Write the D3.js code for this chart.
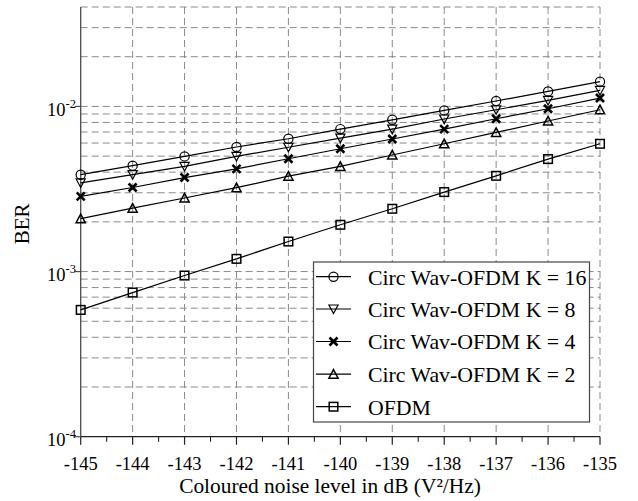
<!DOCTYPE html>
<html>
<head>
<meta charset="utf-8">
<script src="https://cdn.jsdelivr.net/npm/d3@7/dist/d3.min.js"></script>
<style>
  html, body { margin: 0; padding: 0; background: #fff; }
  svg { display: block; }
  text { font-family: "Liberation Serif", Tinos, "Times New Roman", "DejaVu Serif", serif; fill: #000; }
</style>
</head>
<body>
<svg id="chart" width="638" height="501"></svg>
<script>
// ---- data ----
const noiseLevels = [-145, -144, -143, -142, -141, -140, -139, -138, -137, -136, -135];
const berK16 = [3.86e-3, 4.38e-3, 4.98e-3, 5.68e-3, 6.37e-3, 7.29e-3, 8.30e-3, 9.46e-3, 1.079e-2, 1.233e-2, 1.413e-2];
const berK8  = [3.44e-3, 3.86e-3, 4.33e-3, 4.98e-3, 5.66e-3, 6.43e-3, 7.29e-3, 8.39e-3, 9.55e-3, 1.087e-2, 1.25e-2];
const berK4  = [2.85e-3, 3.23e-3, 3.71e-3, 4.19e-3, 4.82e-3, 5.54e-3, 6.35e-3, 7.29e-3, 8.42e-3, 9.68e-3, 1.124e-2];
const berK2  = [2.09e-3, 2.42e-3, 2.79e-3, 3.22e-3, 3.78e-3, 4.33e-3, 5.08e-3, 5.94e-3, 6.96e-3, 8.16e-3, 9.55e-3];
const berOFDM = [5.86e-4, 7.46e-4, 9.46e-4, 1.194e-3, 1.52e-3, 1.92e-3, 2.40e-3, 3.03e-3, 3.80e-3, 4.80e-3, 5.94e-3];
const seriesNames = ["Circ Wav-OFDM K = 16", "Circ Wav-OFDM K = 8", "Circ Wav-OFDM K = 4", "Circ Wav-OFDM K = 2", "OFDM"];
const seriesMarkers = ["circle", "triDown", "cross", "triUp", "square"];
const xTickValues = [-145, -144, -143, -142, -141, -140, -139, -138, -137, -136, -135];
const yTickExps = [-4, -3, -2];
const xLabel = "Coloured noise level in dB (V²/Hz)";
const yLabel = "BER";

const seriesData = [berK16, berK8, berK4, berK2, berOFDM];

// ---- layout ----
const svg = d3.select("#chart");
const L = 80.7, R = 600, T = 7, B = 436.7;
const x = d3.scaleLinear().domain([-145, -135]).range([L, R]);
const y = d3.scaleLog().domain([1e-4, 4e-2]).range([B, T]);
const FONT = '"Liberation Serif", Tinos, "Times New Roman", "DejaVu Serif", serif';

// grid
const gridColor = "#8a8a8a";
const gridDash = "7,4";
const g = svg.append("g");
const yGrid = [];
for (let e = -4; e <= -2; e++) for (let m = 1; m <= 9; m++) {
  const v = m * Math.pow(10, e);
  if (v > 1.0001e-4 && v <= 4e-2 + 1e-12) yGrid.push(v);
}
g.selectAll("line.hg").data(yGrid).enter().append("line")
  .attr("x1", L).attr("x2", R).attr("y1", d => y(d)).attr("y2", d => y(d))
  .attr("stroke", gridColor).attr("stroke-width", 1).attr("stroke-dasharray", gridDash);
g.selectAll("line.vg").data(xTickValues.slice(1)).enter().append("line")
  .attr("x1", d => x(d)).attr("x2", d => x(d)).attr("y1", T).attr("y2", B)
  .attr("stroke", gridColor).attr("stroke-width", 1).attr("stroke-dasharray", gridDash);

// axes
const axisColor = "#4a4a4a";
svg.append("line").attr("x1", L).attr("x2", L).attr("y1", T).attr("y2", B)
  .attr("stroke", axisColor).attr("stroke-width", 1.3);
svg.append("line").attr("x1", L).attr("x2", R).attr("y1", B).attr("y2", B)
  .attr("stroke", "#222").attr("stroke-width", 1.3);

// x ticks (outward, down)
const xMinor = d3.range(-144.5, -135, 1);
svg.selectAll("line.xt").data(xTickValues).enter().append("line")
  .attr("x1", d => x(d)).attr("x2", d => x(d)).attr("y1", B).attr("y2", B + 8)
  .attr("stroke", "#222").attr("stroke-width", 1.2);
svg.selectAll("line.xm").data(xMinor).enter().append("line")
  .attr("x1", d => x(d)).attr("x2", d => x(d)).attr("y1", B).attr("y2", B + 5)
  .attr("stroke", "#222").attr("stroke-width", 1.1);
svg.selectAll("text.xl").data(xTickValues).enter().append("text")
  .attr("font-family", FONT)
  .attr("x", d => x(d)).attr("y", 470).attr("text-anchor", "middle")
  .attr("font-size", 18.5).text(d => String(d));

// y ticks (outward, left)
svg.selectAll("line.yt").data(yTickExps).enter().append("line")
  .attr("x1", L - 6).attr("x2", L).attr("y1", d => y(Math.pow(10, d))).attr("y2", d => y(Math.pow(10, d)))
  .attr("stroke", axisColor).attr("stroke-width", 1.2);
const yl = svg.selectAll("text.yl").data(yTickExps).enter().append("text")
  .attr("font-family", FONT)
  .attr("x", 76).attr("y", d => y(Math.pow(10, d)) + 9.5).attr("text-anchor", "end")
  .attr("font-size", 18.5);
yl.append("tspan").text("10");
yl.append("tspan").attr("font-size", 12.5).attr("dy", -8).text(d => "-" + Math.abs(d));

// axis labels
svg.append("text").attr("font-family", FONT).attr("x", 330).attr("y", 492.5).attr("text-anchor", "middle")
  .attr("font-size", 21.4).text(xLabel);
svg.append("text").attr("font-family", FONT).attr("transform", `translate(29,${(T + B) / 2 + 2}) rotate(-90)`)
  .attr("text-anchor", "middle").attr("font-size", 21).text(yLabel);

// markers
function drawMarker(sel, type, cx, cy) {
  if (type === "circle") {
    sel.append("circle").attr("cx", cx).attr("cy", cy).attr("r", 4.6)
      .attr("fill", "none").attr("stroke", "#000").attr("stroke-width", 1.2);
  } else if (type === "triDown") {
    sel.append("path").attr("d", `M${cx - 4.6},${cy - 4} L${cx + 4.6},${cy - 4} L${cx},${cy + 4.6} Z`)
      .attr("fill", "none").attr("stroke", "#000").attr("stroke-width", 1.2);
  } else if (type === "triUp") {
    sel.append("path").attr("d", `M${cx - 4.6},${cy + 4} L${cx + 4.6},${cy + 4} L${cx},${cy - 4.6} Z`)
      .attr("fill", "none").attr("stroke", "#000").attr("stroke-width", 1.5);
  } else if (type === "cross") {
    sel.append("path").attr("d", `M${cx - 4},${cy - 4} L${cx + 4},${cy + 4} M${cx - 4},${cy + 4} L${cx + 4},${cy - 4}`)
      .attr("fill", "none").attr("stroke", "#000").attr("stroke-width", 2.6);
  } else if (type === "square") {
    sel.append("rect").attr("x", cx - 4.3).attr("y", cy - 4.3).attr("width", 8.6).attr("height", 8.6)
      .attr("fill", "none").attr("stroke", "#000").attr("stroke-width", 1.5);
  }
}

const line = d3.line().x((d, i) => x(noiseLevels[i])).y(d => y(d));
seriesData.forEach((vals, si) => {
  const sg = svg.append("g");
  sg.append("path").attr("d", line(vals)).attr("fill", "none")
    .attr("stroke", "#000").attr("stroke-width", 1.2);
  vals.forEach((v, i) => drawMarker(sg, seriesMarkers[si], x(noiseLevels[i]), y(v)));
});

// legend
const lg = svg.append("g");
lg.append("rect").attr("x", 313.5).attr("y", 262).attr("width", 276).attr("height", 160)
  .attr("fill", "#fff").attr("stroke", "#444").attr("stroke-width", 1.2);
const rowY = [276.7, 309, 341.5, 374.2, 406.7];
seriesNames.forEach((name, i) => {
  const ry = rowY[i];
  lg.append("line").attr("x1", 316).attr("x2", 351).attr("y1", ry).attr("y2", ry)
    .attr("stroke", "#000").attr("stroke-width", 1.2);
  drawMarker(lg, seriesMarkers[i], 333.5, ry);
  lg.append("text").attr("font-family", FONT).attr("x", 368).attr("y", ry + 7.8)
    .attr("font-size", 21.8).text(name);
});
</script>
</body>
</html>
